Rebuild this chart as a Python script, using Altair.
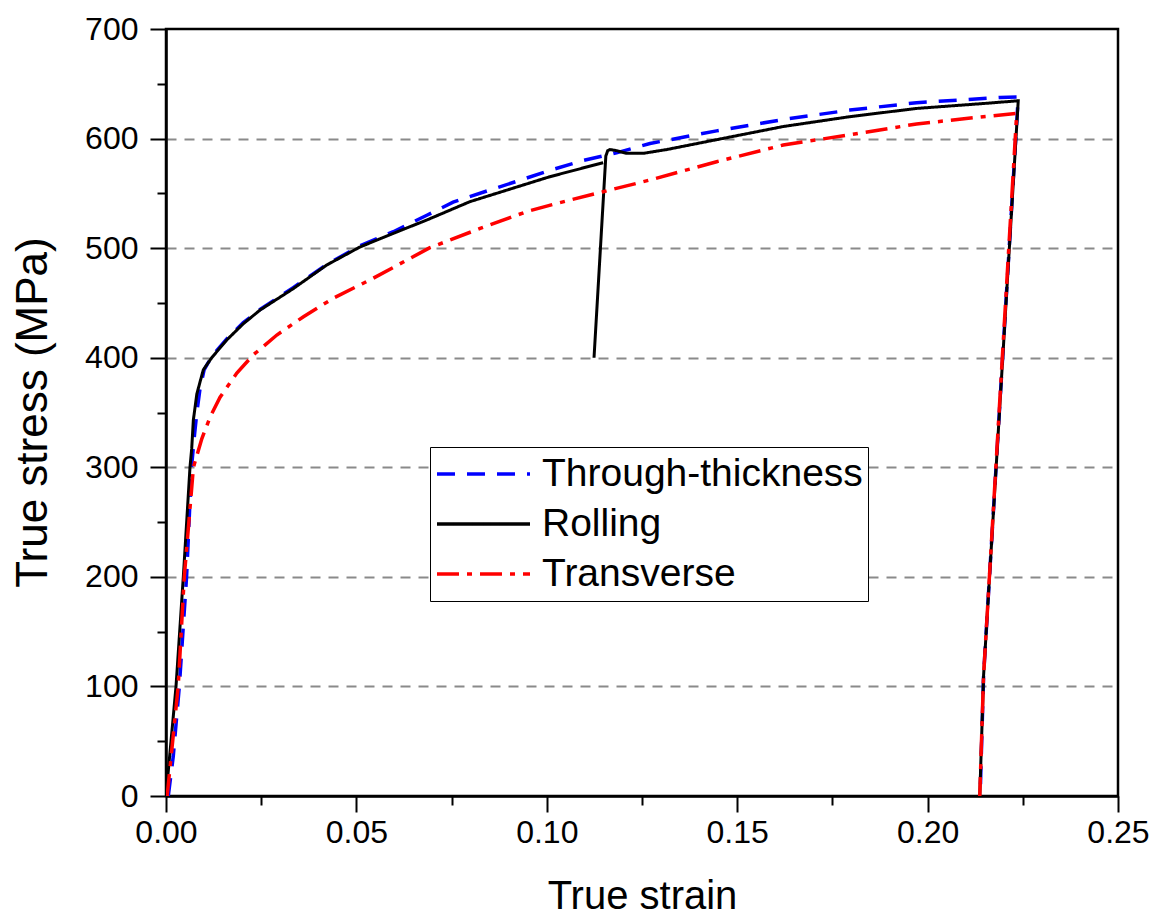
import altair as alt
import pandas as pd

# ---------------- data ----------------
series_names = ["Through-thickness", "Rolling", "Transverse"]
series_colors = ["#0000FF", "#000000", "#FF0000"]
series_dash = [[18, 12], [1, 0], [22, 8, 5, 8]]

tt_strain = [0.0006, 0.0019, 0.0035, 0.0054, 0.0067, 0.0075, 0.0081, 0.0089, 0.0100, 0.0120,
             0.0159, 0.0203, 0.0247, 0.0334, 0.0422, 0.0509, 0.0597, 0.0685, 0.0754, 0.0850,
             0.0930, 0.1008, 0.1096, 0.1183, 0.1271, 0.1446, 0.1621, 0.1796, 0.1971, 0.2190,
             0.2238, 0.2147, 0.2138]
tt_stress = [0, 36, 100, 200, 300, 330, 350, 371, 389, 401,
             417, 432, 444, 464, 485, 502, 515, 530, 542, 553,
             562, 571, 580, 587, 595.5, 607, 617.4, 626, 632.7, 637.5,
             638, 110, 0]

rd1_strain = [0.0000, 0.00263, 0.00455, 0.0063, 0.00675, 0.00718, 0.0081, 0.0098, 0.0120, 0.0159,
              0.0203, 0.0247, 0.0334, 0.0422, 0.0509, 0.0597, 0.0685, 0.0798, 0.0900, 0.1008,
              0.1148]
rd1_stress = [0, 100, 200, 300, 317, 343, 367, 389, 400, 416,
              431, 443.5, 463, 484.6, 501, 513.5, 525.7, 542.4, 553.5, 565.2,
              578]
rd2_strain = [0.1124, 0.1155, 0.1160, 0.1166, 0.1183, 0.1210, 0.1253, 0.1315, 0.1446, 0.1621,
              0.1796, 0.1971, 0.2147, 0.2238, 0.2147, 0.2137]
rd2_stress = [400, 584, 589, 590, 589, 586.5, 586.5, 590, 599, 611,
              620, 627.5, 632, 634.5, 110, 0]

tr_strain = [0.0003, 0.0032, 0.0048, 0.0072, 0.0094, 0.0116, 0.0142, 0.0186, 0.0229, 0.0291,
             0.0361, 0.0439, 0.0544, 0.0693, 0.0825, 0.0947, 0.1017, 0.1148, 0.1271, 0.1446,
             0.1621, 0.1796, 0.1971, 0.2146, 0.2234, 0.2147, 0.2137]
tr_stress = [0, 100, 200, 300, 326, 346, 364, 386, 402.5, 420.7,
             437.4, 454.2, 472.5, 500.4, 518, 533.3, 540, 551.5, 562.2, 578.9,
             594.1, 603.5, 613.3, 620, 623, 110, 0]

x_ticks = [0.0, 0.025, 0.05, 0.075, 0.1, 0.125, 0.15, 0.175, 0.2, 0.225, 0.25]
y_ticks = [0, 50, 100, 150, 200, 250, 300, 350, 400, 450, 500, 550, 600, 650, 700]

rows = []
for name, seg, xs, ys in [
    ("Through-thickness", "tt", tt_strain, tt_stress),
    ("Rolling", "rd1", rd1_strain, rd1_stress),
    ("Rolling", "rd2", rd2_strain, rd2_stress),
    ("Transverse", "tr", tr_strain, tr_stress),
]:
    for i, (xv, yv) in enumerate(zip(xs, ys)):
        rows.append({"series": name, "seg": seg, "idx": i, "strain": xv, "stress": yv})
df = pd.DataFrame(rows)

FONT = "Liberation Sans"

x_axis = alt.Axis(
    values=x_ticks,
    labelExpr="round(datum.value*40) % 2 == 0 ? format(datum.value, '.2f') : ''",
    tickSize={"condition": {"test": "round(datum.value*40) % 2 == 0", "value": 16}, "value": 9},
    grid=False,
    domainColor="black", domainWidth=2.5,
    tickColor="black", tickWidth=2,
    labelFont=FONT, labelFontSize=32, labelColor="black", labelPadding=5,
    labelFlush=False, labelOverlap=False,
    title="True strain", titleFont=FONT, titleFontSize=40, titleFontWeight="normal",
    titleColor="black", titleY=112, titleBaseline="alphabetic",
)

y_axis = alt.Axis(
    values=y_ticks,
    labelExpr="datum.value % 100 == 0 ? datum.label : ''",
    tickSize={"condition": {"test": "datum.value % 100 == 0", "value": 16}, "value": 9},
    grid=True, gridColor="#8a8a8a", gridDash=[10, 8], gridWidth=2,
    gridOpacity={"condition": {"test": "datum.value % 100 == 0 && datum.value > 0 && datum.value < 700",
                               "value": 1}, "value": 0},
    domainColor="black", domainWidth=2.5,
    tickColor="black", tickWidth=2,
    labelFont=FONT, labelFontSize=32, labelColor="black", labelPadding=12,
    labelFlush=False, labelOverlap=False,
    title="True stress (MPa)", titleFont=FONT, titleFontSize=44, titleFontWeight="normal",
    titleColor="black", titleX=-120, titleY=383, titleAngle=270, titleBaseline="alphabetic",
)

legend = alt.Legend(
    title=None, orient="none", legendX=264, legendY=418,
    fillColor="white", strokeColor="black", padding=5, rowPadding=6, clipHeight=44,
    symbolType="stroke", symbolSize=8650, symbolStrokeWidth=3.5,
    labelFont=FONT, labelFontSize=39, labelColor="black", labelOffset=10, labelLimit=0,
)


def layer(name, width):
    return alt.Chart(df).transform_filter(alt.datum.series == name).mark_line(
        strokeWidth=width, clip=True
    ).encode(
        x=alt.X("strain:Q", scale=alt.Scale(domain=[0, 0.25], nice=False, zero=False), axis=x_axis),
        y=alt.Y("stress:Q", scale=alt.Scale(domain=[0, 700], nice=False), axis=y_axis),
        color=alt.Color("series:N", scale=alt.Scale(domain=series_names, range=series_colors), legend=legend),
        strokeDash=alt.StrokeDash("series:N", scale=alt.Scale(domain=series_names, range=series_dash), legend=legend),
        detail="seg:N",
        order="idx:Q",
    )


chart = alt.layer(
    layer("Through-thickness", 3.5),
    layer("Rolling", 3),
    layer("Transverse", 3.5),
).properties(
    width=952, height=767,
    padding={"left": 166, "top": 29, "right": 40, "bottom": 119},
    autosize=alt.AutoSizeParams(type="none"),
).configure_view(stroke="black", strokeWidth=2.5)

chart.save("out.html", embed_options={"renderer": "svg", "actions": False})
